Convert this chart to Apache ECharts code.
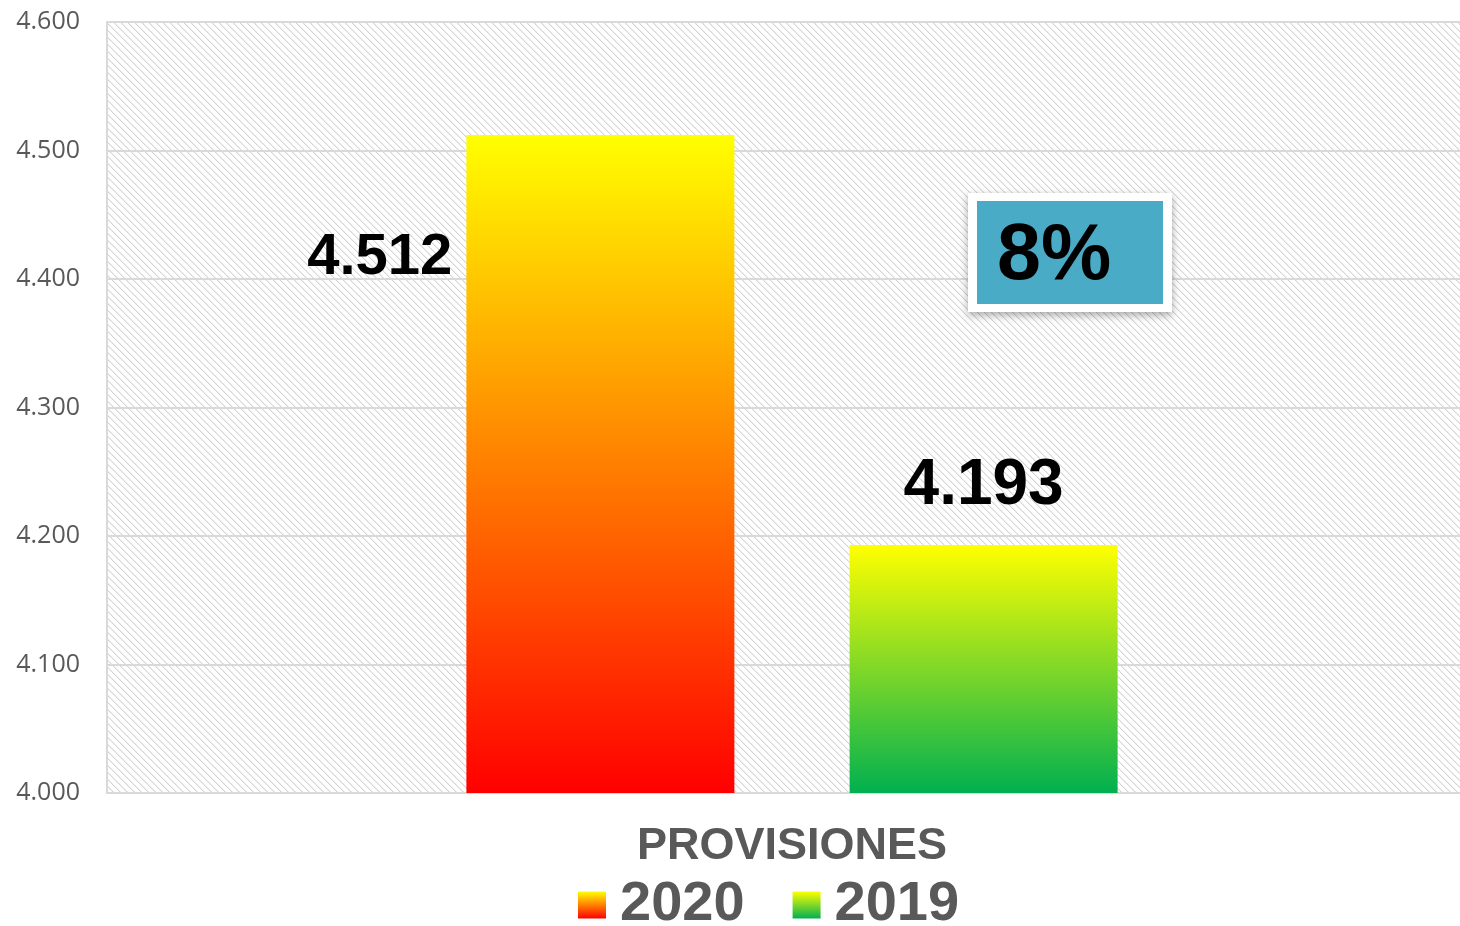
<!DOCTYPE html>
<html>
<head>
<meta charset="utf-8">
<script src="https://cdn.jsdelivr.net/npm/echarts@6/dist/echarts.min.js"></script>
<style>
    html, body { margin: 0; padding: 0; background: #fff; }
    #chart { width: 1460px; height: 926px; }
</style>
</head>
<body>
<div id="chart"></div>
<script>
// 数据
var categories = ['PROVISIONES'];
var years = ['2020', '2019'];
var values2020 = [4512];
var values2019 = [4193];
var yTicks = [4000, 4100, 4200, 4300, 4400, 4500, 4600];
var changeText = '8%';

// 千位分隔符 (4512 -> 4.512)
function fmt (v) {
    var s = Math.round(v) + '';
    return s.replace(/\B(?=(\d{3})+(?!\d))/g, '.');
}

// 斜线底纹
function makeHatch () {
    var n = 7;
    var c = document.createElement('canvas');
    c.width = n;
    c.height = n;
    var ctx = c.getContext('2d');
    ctx.fillStyle = '#ffffff';
    ctx.fillRect(0, 0, n, n);
    for (var i = 0; i < n; i++) {
        ctx.fillStyle = '#d6d6d6';
        ctx.fillRect(i, i, 1, 1);
        ctx.fillStyle = '#ededed';
        ctx.fillRect((i + 1) % n, i, 1, 1);
    }
    return c;
}

function grad (top, bottom) {
    return {
        type: 'linear', x: 0, y: 0, x2: 0, y2: 1,
        colorStops: [{offset: 0, color: top}, {offset: 1, color: bottom}]
    };
}

var option = {
    backgroundColor: '#ffffff',
    animation: false,
    grid: {
        left: 107,
        width: 1370,
        top: 22,
        bottom: 133,
        outerBoundsMode: 'none',
        show: true,
        borderWidth: 0,
        backgroundColor: {image: makeHatch(), repeat: 'repeat'}
    },
    legend: {
        data: years,
        left: 578,
        top: 877,
        padding: 0,
        itemWidth: 28,
        itemHeight: 27,
        itemGap: 48,
        icon: 'rect',
        textStyle: {
            fontFamily: 'Liberation Sans',
            fontWeight: 'bold',
            fontSize: 56,
            color: '#595959',
            padding: [0, 0, 0, 9]
        }
    },
    xAxis: {
        type: 'category',
        data: categories,
        axisTick: {show: false},
        axisLine: {lineStyle: {color: '#d9d9d9', width: 2}},
        axisLabel: {
            margin: 31,
            fontFamily: 'Liberation Sans',
            fontWeight: 'bold',
            fontSize: 45,
            color: '#595959'
        }
    },
    yAxis: {
        type: 'value',
        min: yTicks[0],
        max: yTicks[yTicks.length - 1],
        interval: 100,
        axisLine: {show: true, lineStyle: {color: '#d9d9d9', width: 2}},
        axisTick: {show: false},
        splitLine: {lineStyle: {color: '#d9d9d9', width: 2}},
        axisLabel: {
            margin: 27,
            fontFamily: 'Open Sans',
            fontSize: 25,
            color: '#595959',
            formatter: function (v) { return fmt(v); }
        }
    },
    series: [
        {
            name: years[0],
            type: 'bar',
            data: values2020,
            barWidth: 268,
            barGap: '43%',
            itemStyle: {color: grad('#ffff00', '#ff0000')},
            label: {
                show: true,
                position: [-14, 123],
                align: 'right',
                verticalAlign: 'middle',
                fontFamily: 'Liberation Sans',
                fontWeight: 'bold',
                fontSize: 58,
                color: '#000',
                formatter: function (p) { return fmt(p.value); }
            }
        },
        {
            name: years[1],
            type: 'bar',
            data: values2019,
            barWidth: 268,
            itemStyle: {color: grad('#ffff00', '#00b050')},
            label: {
                show: true,
                position: 'top',
                distance: 27,
                lineHeight: 64,
                fontFamily: 'Liberation Sans',
                fontWeight: 'bold',
                fontSize: 64,
                color: '#000',
                formatter: function (p) { return fmt(p.value); }
            }
        }
    ],
    // 变化率标注框
    graphic: [
        {
            type: 'rect',
            shape: {x: 968, y: 193, width: 204, height: 119},
            style: {
                fill: '#ffffff',
                shadowBlur: 8,
                shadowOffsetY: 3,
                shadowColor: 'rgba(0,0,0,0.35)'
            },
            z: 100
        },
        {
            type: 'rect',
            shape: {x: 977, y: 201, width: 186, height: 103},
            style: {fill: '#4aabc6'},
            z: 101
        },
        {
            type: 'text',
            x: 997,
            y: 257,
            style: {
                text: changeText,
                fontFamily: 'Liberation Sans',
                fontWeight: 'bold',
                fontSize: 79,
                fill: '#000',
                verticalAlign: 'middle'
            },
            z: 102
        }
    ]
};

var chart = echarts.init(document.getElementById('chart'));
chart.setOption(option);
</script>
</body>
</html>
